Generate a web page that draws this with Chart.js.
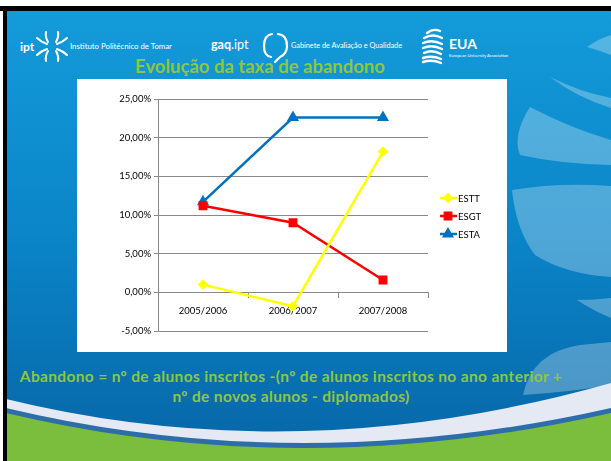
<!DOCTYPE html>
<html>
<head>
<meta charset="utf-8">
<script src="https://cdn.jsdelivr.net/npm/chart.js@4/dist/chart.umd.min.js"></script>
<style>
  html, body { margin: 0; padding: 0; background: #fff; }
  #slide { position: relative; width: 611px; height: 461px; overflow: hidden; font-family: Lato, "Open Sans", sans-serif; }
  #bg { position: absolute; left: 0; top: 0; }
  .txt { position: absolute; white-space: nowrap; color: #fff; }
  #title { left: 0; width: 520px; top: 56px; text-align: center; font-size: 18.5px; font-weight: bold; color: #8dc63f; line-height: 20px; }
  #note { left: 0; width: 582px; top: 366px; text-align: center; font-size: 15.5px; letter-spacing: 0.35px; font-weight: bold; color: #8dc63f; line-height: 20px; }
  #box { position: absolute; left: 77px; top: 79px; width: 430px; height: 273px; background: #fff; }
</style>
</head>
<body>
<div id="slide">
  <svg id="bg" width="611" height="461" xmlns="http://www.w3.org/2000/svg">
    <defs>
      <linearGradient id="blue" x1="0" y1="0" x2="0" y2="1">
        <stop offset="0" stop-color="#149bd9"/>
        <stop offset="0.5" stop-color="#0a85c8"/>
        <stop offset="1" stop-color="#0765a6"/>
      </linearGradient>
    </defs>
    <rect x="0" y="0" width="611" height="461" fill="#fff"/>
    <rect x="6" y="10" width="605" height="451" fill="url(#blue)"/>
    <!-- light swooshes on the right -->
    <g fill="#ffffff" fill-opacity="0.28">
      <path d="M587,47 Q600,38 611,35 L611,55 Q598,50 587,47 Z"/>
      <path d="M550,77 Q580,92 611,98 L611,108 Q578,98 550,77 Z"/>
      <path d="M530,107 Q570,128 611,140 L611,165 Q560,164 520,155 Q512,135 530,107 Z"/>
      <path d="M512,190 Q560,182 611,186 L611,277 Q565,274 535,255 Q516,230 512,190 Z"/>
      <path d="M577,300 Q595,300 611,298 L611,318 Q592,310 577,300 Z"/>
      <path d="M523,395 Q532,352 580,345 L611,342 L611,385 Q570,392 523,395 Z"/>
    </g>
    <!-- bottom band -->
    <path d="M6,399 Q300,471 611,383 L611,461 L6,461 Z" fill="#e4e9f3"/>
    <path d="M6,408 Q300,478 611,408 L611,461 L6,461 Z" fill="#2d6da9"/>
    <path d="M6,413 Q300,483 611,413 L611,461 L6,461 Z" fill="#7bbd3d"/>
    <!-- borders -->
    <rect x="0" y="6" width="611" height="5" fill="#000"/>
    <rect x="3" y="6" width="4" height="455" fill="#000"/>
    <!-- ipt logo -->
    <g stroke="#fff" stroke-width="2" fill="none" stroke-linecap="round">
      <path d="M48,42 Q45,37 46,32"/>
      <path d="M56,42 Q59,37 58,32"/>
      <path d="M48,51 Q45,56 46,61"/>
      <path d="M56,51 Q59,56 58,61"/>
      <path d="M47,44 Q41,42 37,38"/>
      <path d="M57,44 Q63,42 67,38"/>
      <path d="M47,49 Q41,51 37,55"/>
      <path d="M57,49 Q63,51 67,55"/>
    </g>
    <!-- gaq logo -->
    <g stroke="#fff" stroke-width="2.2" fill="none" stroke-linecap="round">
      <path d="M272,34 Q264,35 264,46 Q264,56 271,57"/>
      <path d="M278,34 Q287,35 287,46 Q287,54 280,57 L275,62"/>
    </g>
    <!-- EUA logo -->
    <g stroke="#fff" stroke-width="2.4" fill="none" stroke-linecap="round">
      <path d="M427,33 Q433,28 440,31"/>
      <path d="M424,38 Q433,33 442,38"/>
      <path d="M423,43 Q432,39 442,44"/>
      <path d="M423,48 Q432,44 442,49"/>
      <path d="M424,53 Q432,49 441,54"/>
      <path d="M423,58 Q432,55 441,59"/>
      <path d="M423,62 Q432,59 441,63"/>
    </g>
  </svg>

  <div class="txt" style="left:20px; top:39px; font-size:12px; font-weight:bold;">ipt</div>
  <div class="txt" style="left:70px; top:41px; font-size:7.8px;">Instituto Politécnico de Tomar</div>
  <div class="txt" style="left:211px; top:37px; font-size:12.5px;"><b>gaq</b>.ipt</div>
  <div class="txt" style="left:291px; top:41px; font-size:7.3px;">Gabinete de Avaliação e Qualidade</div>
  <div class="txt" style="left:449px; top:35px; font-size:14px; font-weight:bold;">EUA</div>
  <div class="txt" style="left:449px; top:53px; font-size:4.2px;">European University Association</div>

  <div class="txt" id="title">Evolução da taxa de abandono</div>

  <div id="box"><canvas id="chart" width="430" height="273"></canvas></div>

  <div class="txt" id="note">Abandono = nº de alunos inscritos -(nº de alunos inscritos no ano anterior +<br>nº de novos alunos - diplomados)</div>
</div>

<script>
// data
const years = ["2005/2006", "2006/2007", "2007/2008"];
const seriesNames = ["ESTT", "ESGT", "ESTA"];
const esttValues = [1.0, -1.8, 18.2];
const esgtValues = [11.2, 9.0, 1.6];
const estaValues = [11.7, 22.6, 22.6];
const yTicks = [-5, 0, 5, 10, 15, 20, 25];

const axisFont = { family: "Lato", size: 9.5 };

// legend drawn as line + marker, like the Excel one
const sideLegend = {
  id: "sideLegend",
  afterDraw(chart) {
    const ctx = chart.ctx;
    const x0 = chart.chartArea.right + 12;
    const rows = [119, 137, 155];
    chart.data.datasets.forEach((ds, i) => {
      const y = rows[i];
      ctx.save();
      ctx.strokeStyle = ds.borderColor;
      ctx.lineWidth = ds.borderWidth;
      ctx.beginPath();
      ctx.moveTo(x0, y);
      ctx.lineTo(x0 + 17, y);
      ctx.stroke();
      ctx.fillStyle = ds.pointBackgroundColor;
      ctx.strokeStyle = ds.borderColor;
      Chart.helpers.drawPoint(ctx, {
        pointStyle: ds.pointStyle,
        radius: ds.pointRadius,
        rotation: 0,
        borderWidth: 1
      }, x0 + 8, y);
      ctx.fillStyle = "#000";
      ctx.font = "9.5px Lato";
      ctx.textBaseline = "middle";
      ctx.fillText(ds.label, x0 + 18, y + 0.5);
      ctx.restore();
    });
  }
};

const ctx = document.getElementById("chart").getContext("2d");
new Chart(ctx, {
  type: "line",
  data: {
    labels: years,
    datasets: [
      {
        label: seriesNames[0],
        data: esttValues,
        borderColor: "#ffff00",
        pointBackgroundColor: "#ffff00",
        borderWidth: 2.5,
        pointStyle: "rectRot",
        pointRadius: 3.5,
        tension: 0
      },
      {
        label: seriesNames[1],
        data: esgtValues,
        borderColor: "#ff0000",
        pointBackgroundColor: "#ff0000",
        borderWidth: 2.5,
        pointStyle: "rect",
        pointRadius: 4.5,
        tension: 0
      },
      {
        label: seriesNames[2],
        data: estaValues,
        borderColor: "#0070c0",
        pointBackgroundColor: "#0070c0",
        borderWidth: 2.5,
        pointStyle: "triangle",
        pointRadius: 4.5,
        tension: 0
      }
    ]
  },
  options: {
    responsive: false,
    animation: false,
    devicePixelRatio: 1,
    layout: { padding: { left: 0, right: 79, top: 20, bottom: 21 } },
    plugins: {
      legend: { display: false },
      tooltip: { enabled: false }
    },
    scales: {
      x: {
        position: { y: 0 },
        offset: true,
        afterFit: (scale) => { scale.height = 0; },
        grid: {
          offset: true,
          drawOnChartArea: false,
          drawTicks: true,
          tickLength: 5,
          color: "#888888"
        },
        border: { color: "#888888", width: 1 },
        ticks: { font: axisFont, color: "#000", padding: 8, maxRotation: 0 }
      },
      y: {
        min: yTicks[0],
        max: yTicks[yTicks.length - 1],
        afterFit: (scale) => { scale.width = 81; },
        afterBuildTicks: (scale) => { scale.ticks = yTicks.map((v) => ({ value: v })); },
        grid: { color: "#888888", tickLength: 4 },
        border: { color: "#888888", width: 1 },
        ticks: {
          font: axisFont,
          color: "#000",
          padding: 3,
          callback: (v) => v.toFixed(2).replace(".", ",") + "%"
        }
      }
    }
  },
  plugins: [sideLegend]
});
</script>
</body>
</html>
